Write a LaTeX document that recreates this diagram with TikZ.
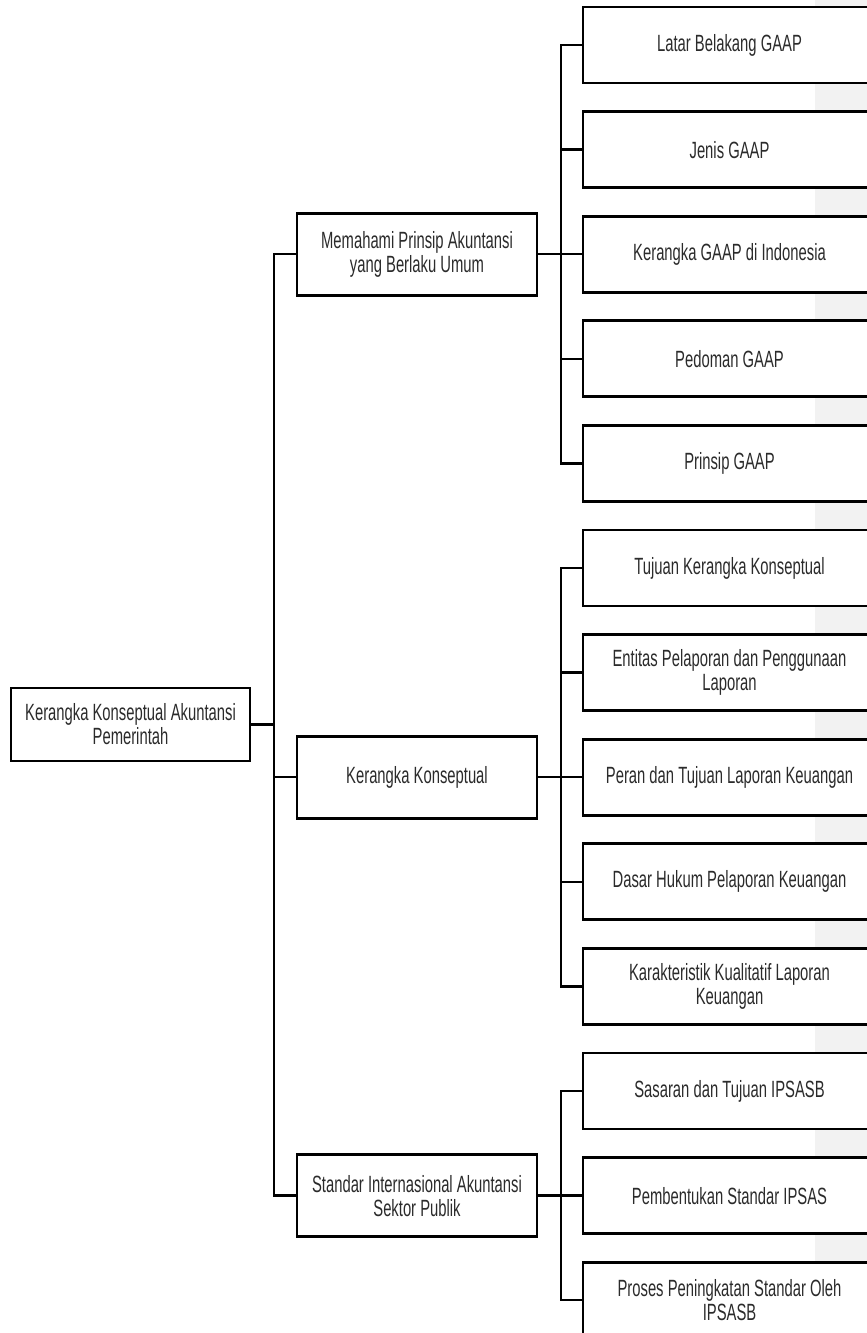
\documentclass[tikz,border=0pt]{standalone}
\usepackage{fontspec}
\setmainfont[FakeStretch=0.63]{Liberation Sans}
\definecolor{stripgray}{HTML}{F2F2F2}
\definecolor{inkgray}{HTML}{2B2B2B}
\begin{document}
\begin{tikzpicture}[x=1pt,y=1pt,
  box/.style={draw=black, line width=2.7pt, fill=white, inner sep=0pt,
    align=center, text=inkgray, font=\fontsize{23.5}{24}\selectfont},
  rootbox/.style={box, minimum width=239pt, minimum height=73pt},
  midbox/.style={box, minimum width=240pt, minimum height=82pt},
  leafbox/.style={box, minimum width=293pt, minimum height=76pt},
  link/.style={line width=2.5pt, draw=black}]
\useasboundingbox (0,0) rectangle (867,-1333);
\clip (0,0) rectangle (867,-1333);
% light strip along the right edge
\fill[stripgray] (815,0) rectangle (867,-1333);

% vertical bus positions
\coordinate (trunk) at (274,0);
\coordinate (bus) at (561,0);

% root
\node[rootbox] (root) at (130.5,-724.5) {Kerangka Konseptual Akuntansi\\Pemerintah};

% first level
\node[midbox] (gaap)  at (417,-254.2)  {Memahami Prinsip Akuntansi\\yang Berlaku Umum};
\node[midbox] (kk)    at (417,-777.2)  {Kerangka Konseptual};
\node[midbox] (ipsas) at (417,-1195.6) {Standar Internasional Akuntansi\\Sektor Publik};

% second level
\node[leafbox] (g1) at (729.5,-45)     {Latar Belakang GAAP};
\node[leafbox] (g2) at (729.5,-149.6)  {Jenis GAAP};
\node[leafbox] (g3) at (729.5,-254.2)  {Kerangka GAAP di Indonesia};
\node[leafbox] (g4) at (729.5,-358.8)  {Pedoman GAAP};
\node[leafbox] (g5) at (729.5,-463.4)  {Prinsip GAAP};
\node[leafbox] (k1) at (729.5,-568)    {Tujuan Kerangka Konseptual};
\node[leafbox] (k2) at (729.5,-672.6)  {Entitas Pelaporan dan Penggunaan\\Laporan};
\node[leafbox] (k3) at (729.5,-777.2)  {Peran dan Tujuan Laporan Keuangan};
\node[leafbox] (k4) at (729.5,-881.8)  {Dasar Hukum Pelaporan Keuangan};
\node[leafbox] (k5) at (729.5,-986.4)  {Karakteristik Kualitatif Laporan\\Keuangan};
\node[leafbox] (p1) at (729.5,-1091)   {Sasaran dan Tujuan IPSASB};
\node[leafbox] (p2) at (729.5,-1195.6) {Pembentukan Standar IPSAS};
\node[leafbox] (p3) at (729.5,-1300.2) {Proses Peningkatan Standar Oleh\\IPSASB};

% connectors root -> first level
\foreach \c in {gaap,kk,ipsas}
  \draw[link] (root.east) -- (root.east -| trunk) |- (\c.west);

% connectors first level -> second level
\foreach \c in {g1,g2,g3,g4,g5}
  \draw[link] (gaap.east) -- (gaap.east -| bus) |- (\c.west);
\foreach \c in {k1,k2,k3,k4,k5}
  \draw[link] (kk.east) -- (kk.east -| bus) |- (\c.west);
\foreach \c in {p1,p2,p3}
  \draw[link] (ipsas.east) -- (ipsas.east -| bus) |- (\c.west);
\end{tikzpicture}
\end{document}
